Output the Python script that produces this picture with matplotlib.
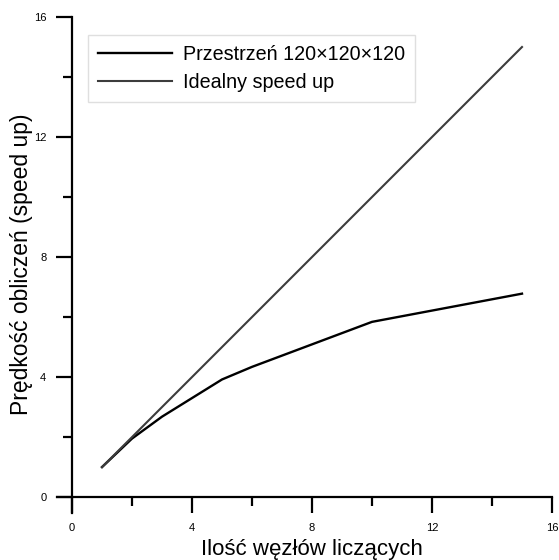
import matplotlib
matplotlib.use("Agg")
import matplotlib.pyplot as plt
from matplotlib.ticker import MultipleLocator

plt.rcParams['font.family'] = ['Liberation Sans', 'DejaVu Sans']

# --- data ---
nodes = [1, 2, 3, 5, 6, 10, 15]
speedup = [1.0, 1.95, 2.68, 3.92, 4.34, 5.84, 6.78]
ideal_x = [1, 15]
ideal_y = [1, 15]
label_real = "Przestrzeń 120×120×120"
label_ideal = "Idealny speed up"

fig = plt.figure(figsize=(5.59, 5.60), dpi=100)
ax = fig.add_axes([57 / 559, 47 / 560, 495 / 559, 496 / 560])

ax.plot(nodes, speedup, color='black', linewidth=1.7, label=label_real)
ax.plot(ideal_x, ideal_y, color='#3c3c3c', linewidth=1.5, label=label_ideal)

ax.set_xlim(-0.5, 16)
ax.set_ylim(-0.53, 16)

# Origin-style axes crossing at zero
ax.spines['left'].set_position(('data', 0))
ax.spines['bottom'].set_position(('data', 0))
ax.spines['right'].set_visible(False)
ax.spines['top'].set_visible(False)
for s in ('left', 'bottom'):
    ax.spines[s].set_linewidth(1.6)

ax.xaxis.set_minor_locator(MultipleLocator(2))
ax.yaxis.set_minor_locator(MultipleLocator(2))
ax.set_xticks([0, 4, 8, 12, 16])
ax.set_yticks([0, 4, 8, 12, 16])
ax.tick_params(which='major', direction='out', length=11.5, width=1.6,
               labelsize=8, pad=7)
ax.tick_params(which='minor', direction='out', length=6.3, width=1.6)

fig.text(312 / 559, 1 - 549 / 560, "Ilość węzłów liczących", fontsize=16,
         ha='center', va='center')
fig.text(22 / 559, 1 - 264 / 560, "Prędkość obliczeń (speed up)", fontsize=16.5,
         ha='center', va='center', rotation=90)

leg = ax.legend(loc='upper left', bbox_to_anchor=(88 / 559, 1 - 35 / 560),
                bbox_transform=fig.transFigure, fontsize=14.2, frameon=True,
                fancybox=False, handlelength=3.75, handletextpad=0.55,
                borderpad=0.5, borderaxespad=0, labelspacing=0.45)
leg.get_frame().set_edgecolor('#d8d8d8')
leg.get_frame().set_linewidth(1.0)

fig.savefig("out.png", dpi=100)
